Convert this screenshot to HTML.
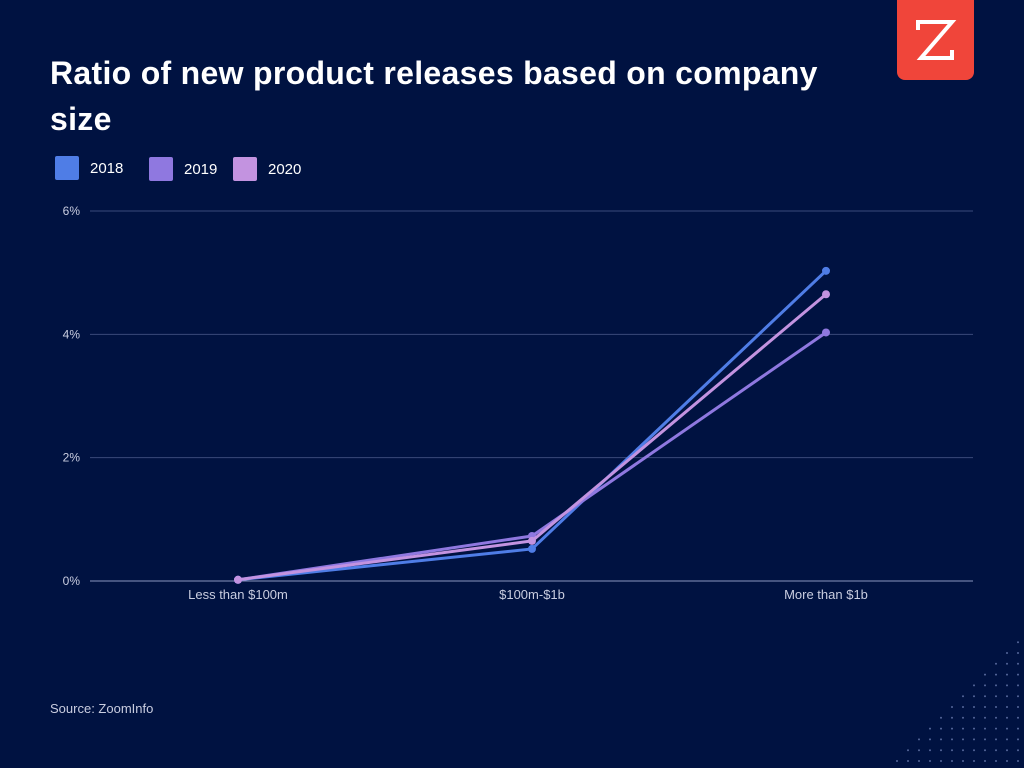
<!DOCTYPE html>
<html><head><meta charset="utf-8"><style>
body{margin:0;width:1024px;height:768px;background:#001241;overflow:hidden;font-family:"Liberation Sans",sans-serif;position:relative}
#title{position:absolute;left:50px;top:50px;width:800px;color:#fff;font-size:32px;font-weight:bold;line-height:46px;letter-spacing:0.3px}
#logo{position:absolute;left:897px;top:0;width:77px;height:80px;background:#f0453a;border-radius:0 0 8px 8px}
.leg{position:absolute;top:156px;height:24px;display:flex;align-items:center;color:#fff;font-size:15px}
.sw{width:24px;height:24px;margin-right:11px;border-radius:2px}
#src{position:absolute;left:50px;top:701px;color:#c9cde0;font-size:13px}
</style></head><body>
<div id="title">Ratio of new product releases based on company size</div>
<div id="logo"><svg width="77" height="80"><path d="M21 30V22H55L24 58H55V50" stroke="#fff" stroke-width="4" fill="none"/></svg></div>
<div class="leg" style="left:55px"><div class="sw" style="background:#4f7de6"></div>2018</div>
<div class="leg" style="left:149px;top:157px"><div class="sw" style="background:#8f78e0"></div>2019</div>
<div class="leg" style="left:233px;top:157px"><div class="sw" style="background:#c393e0"></div>2020</div>
<div id="src">Source: ZoomInfo</div>
<svg id="chart" width="1024" height="768" style="position:absolute;left:0;top:0"></svg>
<script>
const categories=["Less than $100m","$100m-$1b","More than $1b"];
const yTicks=[0,2,4,6];
const yTickLabels=["0%","2%","4%","6%"];
const s2018=[0.02,0.52,5.03];
const s2019=[0.02,0.73,4.03];
const s2020=[0.02,0.65,4.65];
const seriesNames=["2018","2019","2020"];
const colors=["#4f7de6","#8f78e0","#c393e0"];
const NS="http://www.w3.org/2000/svg";
const svg=document.getElementById('chart');
const x=i=>238+i*294;
const y=v=>581-v*(370/6);
function mk(t,a){const e=document.createElementNS(NS,t);for(const k in a)e.setAttribute(k,a[k]);svg.appendChild(e);return e;}
yTicks.forEach((t,i)=>{
 const l=mk('line',{x1:90,x2:973,y1:y(t),y2:y(t),stroke:t===0?'#8a97bf':'#3a4a7a','stroke-width':1});
 
 
 const tx=mk('text',{x:80,y:y(t)+4,fill:'#c9cde0','font-size':12,'text-anchor':'end','font-family':'Liberation Sans'});
 tx.textContent=yTickLabels[i];
 
 
});
categories.forEach((c,i)=>{
 const tx=mk('text',{x:x(i),y:599,fill:'#c9cde0','font-size':13,'text-anchor':'middle','font-family':'Liberation Sans'});
 tx.textContent=c;
 
 
});
[s2018,s2019,s2020].forEach((s,k)=>{
 const p=mk('polyline',{points:s.map((v,i)=>x(i)+','+y(v)).join(' '),fill:'none',stroke:colors[k],'stroke-width':3,'stroke-linejoin':'round'});
 
 
 s.forEach((v,i)=>{
  const c=mk('circle',{cx:x(i),cy:y(v),r:4,fill:colors[k]});
  
  
 });
});
for(let r=0;r<12;r++){for(let c=0;c<=r;c++){
 const d=mk('circle',{cx:1018-c*11,cy:761-(11-r)*10.8,r:1,fill:'#55679a'});
 
 
}}
</script>
</body></html>
